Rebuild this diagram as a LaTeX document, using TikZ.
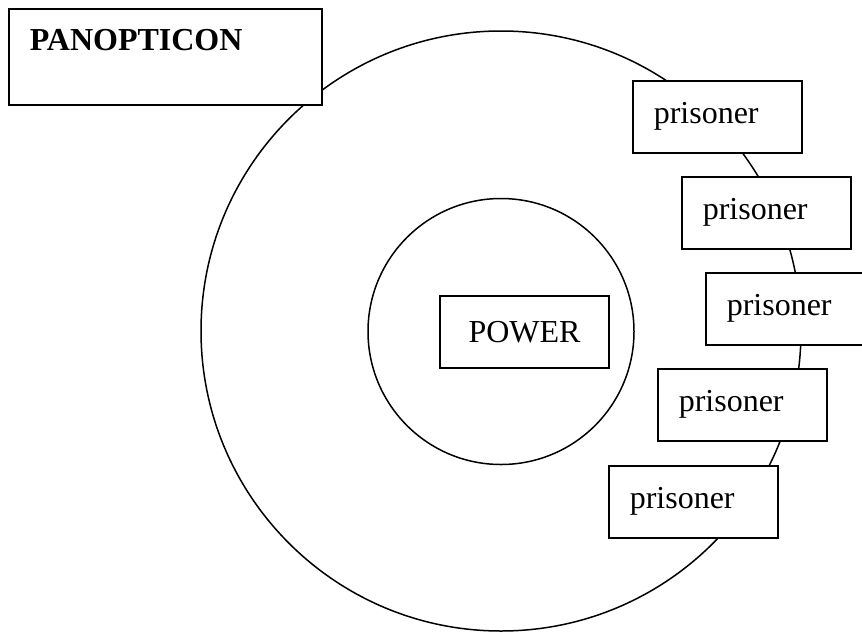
\documentclass[tikz,border=0pt]{standalone}
\usepackage{fontspec}
\setmainfont{Liberation Serif}
\usetikzlibrary{calc}
\begin{document}
\begin{tikzpicture}[x=1pt,y=1pt,line width=1.5pt,
  txt/.style={font=\fontsize{32}{38}\selectfont},
  prisonerbox/.style={draw,fill=white,anchor=north west,txt,inner xsep=21pt,inner ysep=0pt,
    text width=127pt,align=left,minimum height=72pt}]
\useasboundingbox (0,0) rectangle (862,-632);
\clip (0,0) rectangle (862,-632);
% outer ring and inner circle
\node[draw,circle,minimum size=600pt,inner sep=0pt] (ring) at (501,-331) {};
\node[draw,circle,minimum size=266pt,inner sep=0pt] (tower) at (501,-331.5) {};
% power
\node[draw,fill=white,txt,minimum width=169pt,minimum height=72pt,inner sep=0pt] (power) at (524.5,-332) {POWER};
% panopticon title box
\node[draw,fill=white,anchor=north west,minimum width=313pt,minimum height=96pt,inner sep=0pt] (pan) at (8,-8) {};
\node[anchor=base west,font=\fontsize{32}{38}\selectfont\bfseries,inner sep=0pt] (pantitle) at ($(pan.north west)+(21,-42)$) {PANOPTICON};
% prisoners
\node[prisonerbox] (p1) at (632,-80) {prisoner};
\node[prisonerbox] (p2) at (681,-176) {prisoner};
\node[prisonerbox] (p3) at (705,-272) {prisoner};
\node[prisonerbox] (p4) at (657,-368) {prisoner};
\node[prisonerbox] (p5) at (608,-465) {prisoner};
\end{tikzpicture}
\end{document}
